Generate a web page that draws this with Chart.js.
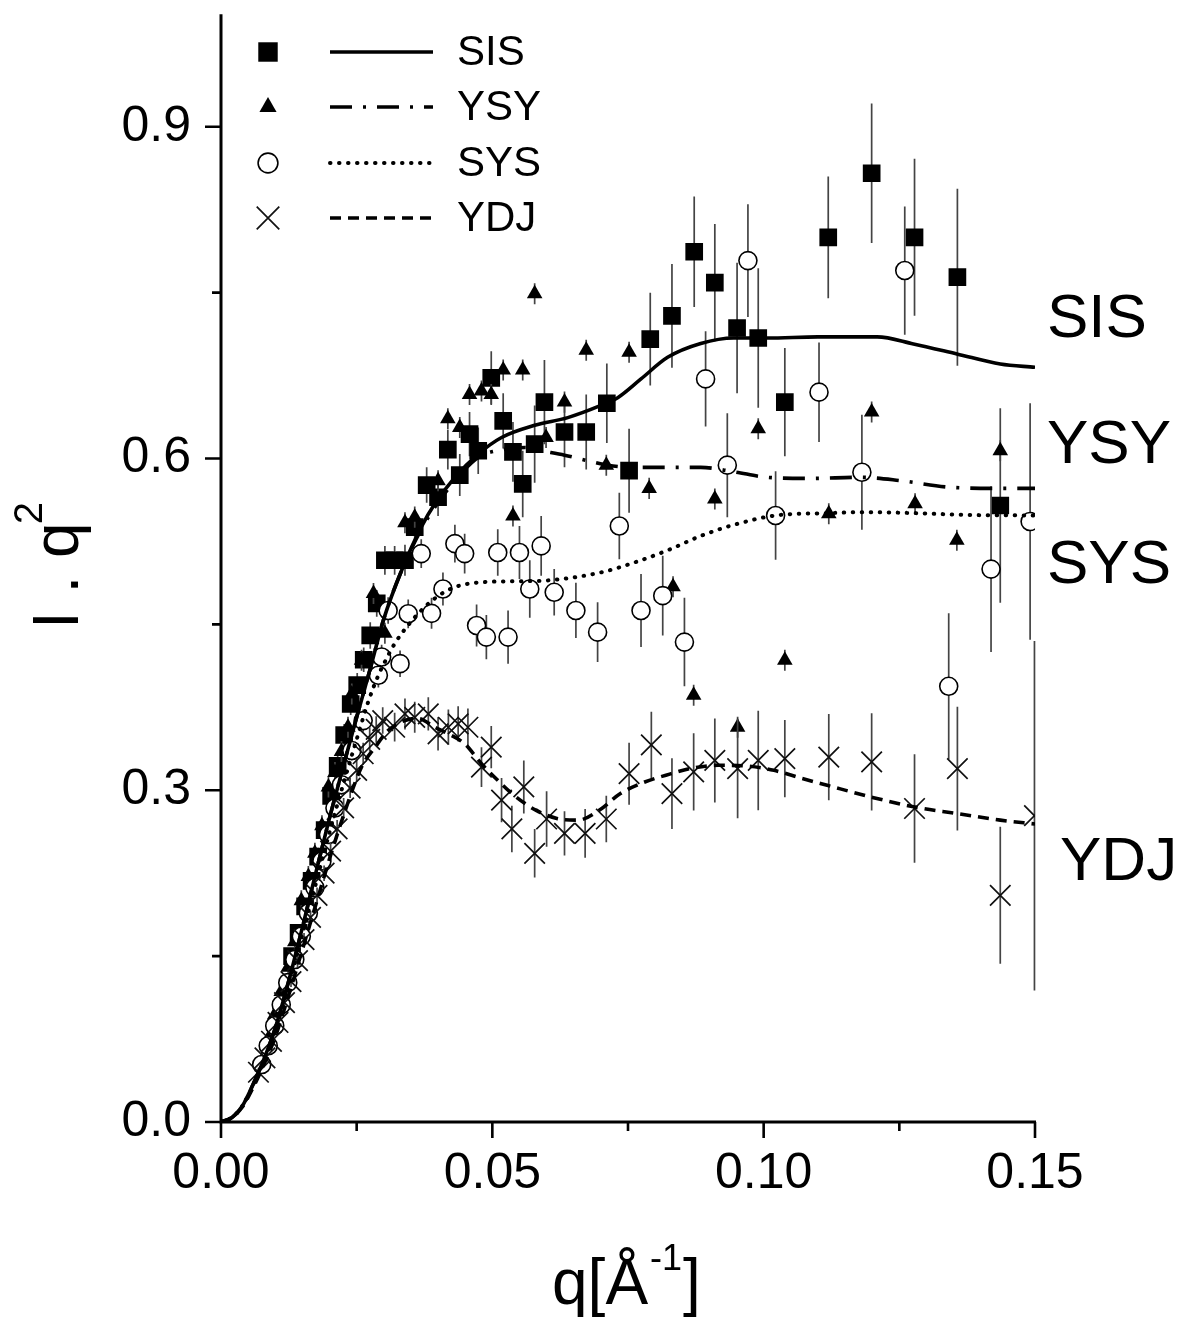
<!DOCTYPE html>
<html><head><meta charset="utf-8">
<script src="https://cdn.jsdelivr.net/npm/chart.js@4.4.1/dist/chart.umd.min.js"></script>
<style>html,body{margin:0;padding:0;background:#fff;}canvas{display:block;}</style>
</head><body>
<canvas id="c" width="1185" height="1320" style="width:1185px;height:1320px"></canvas>
<script>
// ---------- tick values ----------
const xTickValues = [0, 0.05, 0.10, 0.15];
const xMinorTicks = [0.025, 0.075, 0.125];
const yTickValues = [0, 0.3, 0.6, 0.9];
const yMinorTicks = [0.15, 0.45, 0.75];
const seriesNames = ['SIS', 'YSY', 'SYS', 'YDJ'];

// ---------- SIS (squares) ----------
const sisQ = [0.0131,0.0143,0.0155,0.0167,0.0179,0.0191,0.0203,0.0215,0.0227,0.0239,0.0251,0.0263,0.0275,0.0287,0.0302,0.0320,0.0339,0.0357,0.0379,0.0400,0.0418,0.0440,0.0458,0.0474,0.0498,0.0520,0.0538,0.0556,0.0578,0.0596,0.0633,0.0673,0.0711,0.0752,0.0791,0.0831,0.0872,0.0910,0.0951,0.0990,0.1039,0.1119,0.1199,0.1278,0.1357,0.1436];
const sisI = [0.150,0.171,0.195,0.218,0.240,0.264,0.295,0.322,0.350,0.378,0.395,0.418,0.440,0.469,0.508,0.508,0.508,0.538,0.576,0.565,0.608,0.585,0.622,0.607,0.673,0.634,0.606,0.577,0.613,0.651,0.624,0.624,0.650,0.589,0.708,0.729,0.787,0.759,0.718,0.709,0.651,0.800,0.858,0.800,0.764,0.5575];
const sisErr = [0.006,0.006,0.007,0.007,0.008,0.008,0.009,0.009,0.010,0.010,0.011,0.011,0.012,0.012,0.013,0.013,0.014,0.015,0.016,0.017,0.018,0.019,0.020,0.021,0.024,0.025,0.027,0.030,0.035,0.038,0.032,0.034,0.036,0.038,0.042,0.047,0.050,0.053,0.059,0.063,0.049,0.055,0.063,0.071,0.080,0.088];

// ---------- YSY (triangles) ----------
const ysyQ = [0.0075,0.0087,0.0099,0.0111,0.0124,0.0136,0.0148,0.0161,0.0173,0.0186,0.0198,0.0210,0.0222,0.0234,0.0241,0.0259,0.0281,0.0302,0.0339,0.0357,0.0400,0.0418,0.0440,0.0458,0.0480,0.0498,0.0520,0.0538,0.0556,0.0578,0.0599,0.0633,0.0673,0.0710,0.0752,0.0789,0.0833,0.0871,0.0910,0.0952,0.0990,0.1039,0.1120,0.1199,0.1279,0.1356,0.1436];
const ysyI = [0.055,0.075,0.097,0.118,0.140,0.163,0.200,0.222,0.243,0.268,0.303,0.316,0.335,0.357,0.387,0.4175,0.478,0.442,0.542,0.547,0.580,0.636,0.628,0.658,0.661,0.658,0.680,0.548,0.680,0.749,0.619,0.651,0.698,0.594,0.696,0.573,0.484,0.386,0.5635,0.357,0.627,0.4175,0.550,0.642,0.559,0.526,0.607];
const ysyErr = [0.0095,0.0095,0.0095,0.0095,0.0095,0.0095,0.0095,0.0095,0.0095,0.0095,0.0095,0.0095,0.0095,0.0095,0.0095,0.0095,0.0095,0.0095,0.0095,0.0095,0.0095,0.0095,0.0095,0.0095,0.0095,0.0095,0.0095,0.0095,0.0095,0.0095,0.0095,0.0095,0.0095,0.0095,0.0095,0.0095,0.0095,0.0095,0.0095,0.0095,0.0095,0.0095,0.0095,0.0095,0.0095,0.0095,0.0095];

// ---------- SYS (open circles) ----------
const sysQ = [0.0075,0.0087,0.0099,0.0111,0.0123,0.0136,0.0148,0.0161,0.0173,0.0186,0.0198,0.0210,0.0222,0.0241,0.0262,0.0290,0.0296,0.0308,0.0330,0.0345,0.0369,0.0388,0.0409,0.0431,0.0449,0.0471,0.0489,0.0510,0.0529,0.0550,0.0569,0.0590,0.0614,0.0654,0.0694,0.0734,0.0774,0.0814,0.0854,0.0893,0.0933,0.0971,0.1022,0.1102,0.1181,0.1260,0.1341,0.1419,0.1491];
const sysI = [0.052,0.069,0.087,0.106,0.126,0.147,0.168,0.189,0.212,0.236,0.260,0.284,0.305,0.336,0.363,0.404,0.4205,0.4626,0.4145,0.4596,0.514,0.460,0.482,0.523,0.514,0.449,0.4385,0.515,0.4385,0.515,0.482,0.521,0.479,0.4626,0.443,0.539,0.4626,0.476,0.434,0.672,0.594,0.779,0.5485,0.660,0.5876,0.770,0.394,0.500,0.543];
const sysErr = [0.005,0.005,0.005,0.006,0.006,0.006,0.007,0.007,0.007,0.008,0.008,0.008,0.009,0.009,0.010,0.011,0.011,0.012,0.012,0.013,0.013,0.014,0.015,0.017,0.018,0.019,0.020,0.021,0.024,0.024,0.026,0.027,0.021,0.025,0.027,0.030,0.033,0.036,0.040,0.043,0.047,0.051,0.040,0.045,0.052,0.058,0.066,0.075,0.107];

// ---------- YDJ (crosses) ----------
const ydjQ = [0.0069,0.0081,0.0093,0.0105,0.0117,0.0129,0.0141,0.0153,0.0165,0.0177,0.0190,0.0202,0.0214,0.0226,0.0238,0.0250,0.0262,0.0274,0.0286,0.0298,0.0320,0.0339,0.0357,0.0382,0.0400,0.0419,0.0437,0.0455,0.0480,0.0498,0.0517,0.0536,0.0558,0.0578,0.0600,0.0633,0.0671,0.0710,0.0752,0.0793,0.0831,0.0871,0.0910,0.0952,0.0990,0.1039,0.1120,0.1199,0.1278,0.1357,0.1436,0.1499];
const ydjI = [0.045,0.058,0.073,0.090,0.108,0.127,0.146,0.165,0.185,0.205,0.225,0.245,0.265,0.284,0.302,0.318,0.333,0.346,0.355,0.363,0.357,0.369,0.366,0.369,0.351,0.357,0.360,0.357,0.321,0.339,0.291,0.265,0.303,0.243,0.274,0.261,0.261,0.274,0.315,0.341,0.297,0.3166,0.327,0.3196,0.327,0.3286,0.330,0.3256,0.2835,0.3196,0.205,0.277];
const ydjErr = [0.004,0.004,0.004,0.005,0.005,0.005,0.006,0.006,0.006,0.007,0.007,0.008,0.008,0.009,0.009,0.010,0.010,0.011,0.012,0.012,0.013,0.014,0.014,0.015,0.015,0.016,0.016,0.017,0.018,0.019,0.020,0.021,0.024,0.022,0.025,0.020,0.022,0.021,0.028,0.030,0.032,0.035,0.038,0.045,0.045,0.035,0.039,0.044,0.049,0.056,0.062,0.158];

// ---------- model curves ----------
const sisFitQ = [0,0.002,0.004,0.006,0.008,0.010,0.0125,0.015,0.0175,0.020,0.0225,0.025,0.0275,0.030,0.0333,0.0369,0.0394,0.0431,0.0474,0.0517,0.0578,0.0639,0.070,0.0731,0.0774,0.0823,0.0884,0.0945,0.1007,0.110,0.1209,0.1276,0.1356,0.1436,0.150];
const sisFitI = [0,0.004,0.015,0.035,0.058,0.085,0.128,0.176,0.226,0.275,0.321,0.366,0.410,0.455,0.499,0.538,0.559,0.583,0.604,0.619,0.630,0.637,0.648,0.655,0.672,0.6915,0.704,0.709,0.709,0.710,0.710,0.7036,0.6946,0.6855,0.6825];

const ysyFitQ = [0,0.002,0.004,0.006,0.008,0.010,0.0125,0.015,0.0175,0.020,0.0225,0.025,0.0275,0.030,0.0333,0.0369,0.0394,0.0431,0.0474,0.052,0.056,0.059,0.0633,0.0676,0.0713,0.0762,0.0823,0.0884,0.0945,0.1007,0.1086,0.1178,0.1252,0.1344,0.1436,0.150];
const ysyFitI = [0,0.004,0.015,0.035,0.058,0.085,0.128,0.176,0.226,0.275,0.321,0.366,0.410,0.455,0.499,0.536,0.556,0.580,0.601,0.608,0.610,0.607,0.603,0.598,0.594,0.592,0.592,0.592,0.588,0.583,0.582,0.583,0.580,0.574,0.573,0.573];

const sysFitQ = [0,0.002,0.004,0.006,0.008,0.010,0.0125,0.015,0.0175,0.020,0.0225,0.025,0.0272,0.029,0.0305,0.032,0.0342,0.0369,0.0397,0.0431,0.0486,0.0547,0.0608,0.070,0.0762,0.0823,0.0884,0.0945,0.1022,0.1117,0.119,0.1282,0.1374,0.150];
const sysFitI = [0,0.004,0.015,0.034,0.056,0.082,0.124,0.170,0.216,0.262,0.305,0.346,0.381,0.404,0.419,0.4325,0.4476,0.4626,0.4746,0.4837,0.4883,0.489,0.490,0.497,0.506,0.517,0.530,0.540,0.5485,0.5506,0.5515,0.5506,0.549,0.5485];

const ydjFitQ = [0,0.002,0.004,0.006,0.008,0.010,0.0125,0.015,0.0175,0.020,0.0225,0.0259,0.0284,0.0308,0.0333,0.0363,0.0394,0.0419,0.0449,0.048,0.051,0.0541,0.058,0.0619,0.0658,0.0697,0.0736,0.0781,0.082,0.0865,0.0916,0.0968,0.1019,0.1071,0.1117,0.1197,0.1276,0.1356,0.1436,0.150];
const ydjFitI = [0,0.004,0.014,0.032,0.053,0.077,0.115,0.156,0.197,0.238,0.276,0.321,0.339,0.354,0.362,0.365,0.357,0.351,0.342,0.324,0.309,0.295,0.282,0.2745,0.273,0.282,0.297,0.3075,0.3136,0.3196,0.3226,0.322,0.318,0.3106,0.3045,0.294,0.285,0.279,0.273,0.2695];

// ---------- helpers ----------
const FONT = "'Liberation Sans', Arial, sans-serif";
const pts = (qs, is) => qs.map((q, i) => ({ x: q, y: is[i] }));

const markerStyles = [
  { pointStyle: 'rect', pointRadius: 12.5, backgroundColor: '#000', borderColor: '#000', borderWidth: 0 },
  { pointStyle: 'triangle', pointRadius: 9, backgroundColor: '#000', borderColor: '#000', borderWidth: 0 },
  { pointStyle: 'circle', pointRadius: 9, backgroundColor: '#fff', borderColor: '#000', borderWidth: 1.6 },
  { pointStyle: 'crossRot', pointRadius: 14.5, backgroundColor: '#000', borderColor: '#111', borderWidth: 1.7 }
];
const lineStyles = [
  { borderDash: [], borderCapStyle: 'butt', borderWidth: 3.6 },
  { borderDash: [22, 11, 3, 11], borderCapStyle: 'butt', borderWidth: 3.6 },
  { borderDash: [0.5, 8.5], borderCapStyle: 'round', borderWidth: 4 },
  { borderDash: [11, 7], borderCapStyle: 'butt', borderWidth: 3.6 }
];

const markerData = [[sisQ, sisI, sisErr], [ysyQ, ysyI, ysyErr], [sysQ, sysI, sysErr], [ydjQ, ydjI, ydjErr]];
const fitData = [[sisFitQ, sisFitI], [ysyFitQ, ysyFitI], [sysFitQ, sysFitI], [ydjFitQ, ydjFitI]];

const datasets = [];
fitData.forEach((f, k) => {
  datasets.push(Object.assign({
    label: seriesNames[k] + ' fit', data: pts(f[0], f[1]), showLine: true,
    borderColor: '#000', pointRadius: 0, pointHoverRadius: 0, fill: false,
    cubicInterpolationMode: 'monotone', clip: 0, order: 0
  }, lineStyles[k]));
});
markerData.forEach((m, k) => {
  datasets.push(Object.assign({
    label: seriesNames[k], data: pts(m[0], m[1]), errors: m[2], showLine: false,
    clip: 0, order: 4 - k
  }, markerStyles[k], { pointHoverRadius: markerStyles[k].pointRadius }));
});

// ---------- plugins ----------
const errorBarPlugin = {
  id: 'errorBars',
  beforeDatasetDraw(chart, args) {
    const ds = chart.data.datasets[args.index];
    if (!ds.errors) return;
    const ys = chart.scales.y, area = chart.chartArea, ctx = chart.ctx;
    ctx.save();
    ctx.beginPath();
    ctx.rect(area.left, area.top, area.right - area.left + 1, area.bottom - area.top);
    ctx.clip();
    ctx.strokeStyle = '#444';
    ctx.lineWidth = 1.7;
    ds.data.forEach((p, i) => {
      const el = args.meta.data[i];
      const e = ds.errors[i];
      ctx.beginPath();
      ctx.moveTo(el.x, ys.getPixelForValue(p.y - e));
      ctx.lineTo(el.x, ys.getPixelForValue(p.y + e));
      ctx.stroke();
    });
    ctx.restore();
  }
};

function drawMarker(ctx, k, x, y, scale) {
  const st = markerStyles[k];
  ctx.save();
  ctx.fillStyle = st.backgroundColor;
  ctx.strokeStyle = st.borderColor;
  ctx.lineWidth = st.borderWidth || 1.6;
  Chart.helpers.drawPoint(ctx, { pointStyle: st.pointStyle, radius: st.pointRadius * scale, rotation: 0, borderWidth: st.borderWidth }, x, y);
  ctx.restore();
}

const decorPlugin = {
  id: 'decor',
  afterDraw(chart) {
    const ctx = chart.ctx, area = chart.chartArea, xs = chart.scales.x, ys = chart.scales.y;
    ctx.save();
    // axis lines
    ctx.strokeStyle = '#000';
    ctx.lineWidth = 3;
    ctx.beginPath();
    ctx.moveTo(area.left, area.top - 2);
    ctx.lineTo(area.left, area.bottom + 1.5);
    ctx.moveTo(area.left - 1.5, area.bottom);
    ctx.lineTo(area.right + 1, area.bottom);
    ctx.stroke();
    // ticks
    ctx.lineWidth = 2.6;
    ctx.beginPath();
    xTickValues.forEach(v => { const p = xs.getPixelForValue(v); ctx.moveTo(p, area.bottom); ctx.lineTo(p, area.bottom + 16); });
    xMinorTicks.forEach(v => { const p = xs.getPixelForValue(v); ctx.moveTo(p, area.bottom); ctx.lineTo(p, area.bottom + 9); });
    yTickValues.forEach(v => { const p = ys.getPixelForValue(v); ctx.moveTo(area.left, p); ctx.lineTo(area.left - 16, p); });
    yMinorTicks.forEach(v => { const p = ys.getPixelForValue(v); ctx.moveTo(area.left, p); ctx.lineTo(area.left - 9, p); });
    ctx.stroke();

    ctx.fillStyle = '#000';
    // y-axis title  I . q^2
    ctx.save();
    ctx.translate(78, 629);
    ctx.rotate(-Math.PI / 2);
    ctx.textAlign = 'left';
    ctx.textBaseline = 'alphabetic';
    ctx.font = '64px ' + FONT;
    const base = 'I . q';
    ctx.fillText(base, 0, 0);
    const w = ctx.measureText(base).width;
    ctx.font = '40px ' + FONT;
    ctx.fillText('2', w - 2, -36);
    ctx.restore();

    // x-axis title  q[Å^-1]
    ctx.textAlign = 'left';
    ctx.textBaseline = 'alphabetic';
    let x = 552; const yb = 1304;
    ctx.font = '64px ' + FONT;
    ctx.fillText('q[Å', x, yb);
    x += ctx.measureText('q[Å').width + 2;
    ctx.font = '36px ' + FONT;
    ctx.fillText('-1', x, yb - 34);
    x += ctx.measureText('-1').width + 1;
    ctx.font = '64px ' + FONT;
    ctx.fillText(']', x, yb);

    // right-hand labels
    ctx.font = '62px ' + FONT;
    ctx.textBaseline = 'middle';
    const rl = [[1047, 320], [1047, 446], [1047, 566], [1060, 863]];
    seriesNames.forEach((n, k) => ctx.fillText(n, rl[k][0], rl[k][1]));

    // legend
    const rows = [52, 107, 163, 218];
    seriesNames.forEach((n, k) => {
      const yy = rows[k];
      drawMarker(ctx, k, 268, yy, 1.1);
      const ls = lineStyles[k];
      ctx.save();
      ctx.strokeStyle = '#000';
      ctx.lineWidth = ls.borderWidth;
      ctx.lineCap = ls.borderCapStyle;
      ctx.setLineDash(ls.borderDash);
      ctx.beginPath();
      ctx.moveTo(330, yy);
      ctx.lineTo(433, yy);
      ctx.stroke();
      ctx.restore();
      ctx.font = '42px ' + FONT;
      ctx.textBaseline = 'middle';
      ctx.fillStyle = '#000';
      ctx.fillText(n, 457, yy + 1);
    });
    ctx.restore();
  }
};

Chart.defaults.font.family = FONT;
Chart.defaults.color = '#000';

new Chart(document.getElementById('c'), {
  type: 'scatter',
  data: { datasets },
  plugins: [errorBarPlugin, decorPlugin],
  options: {
    responsive: false,
    animation: false,
    devicePixelRatio: 1,
    events: [],
    layout: { padding: { left: 0, right: 150, top: 15, bottom: 0 } },
    plugins: { legend: { display: false }, tooltip: { enabled: false }, title: { display: false } },
    scales: {
      x: {
        type: 'linear', min: 0, max: 0.15,
        afterFit: s => { s.height = 198; s.paddingLeft = 0; s.paddingRight = 0; s.paddingTop = 0; s.paddingBottom = 0; },
        afterBuildTicks: s => { s.ticks = xTickValues.map(v => ({ value: v })); },
        ticks: { callback: v => Number(v).toFixed(2), font: { size: 50 }, color: '#000', padding: 22, maxRotation: 0, autoSkip: false },
        grid: { display: false, drawTicks: false },
        border: { display: false }
      },
      y: {
        type: 'linear', min: 0, max: 1.0,
        afterFit: s => { s.width = 221; s.paddingTop = 0; s.paddingBottom = 0; s.paddingLeft = 0; s.paddingRight = 0; },
        afterBuildTicks: s => { s.ticks = yTickValues.map(v => ({ value: v })); },
        ticks: { callback: v => Number(v).toFixed(1), font: { size: 50 }, color: '#000', padding: 30, autoSkip: false },
        grid: { display: false, drawTicks: false },
        border: { display: false }
      }
    }
  }
});
</script>
</body></html>
